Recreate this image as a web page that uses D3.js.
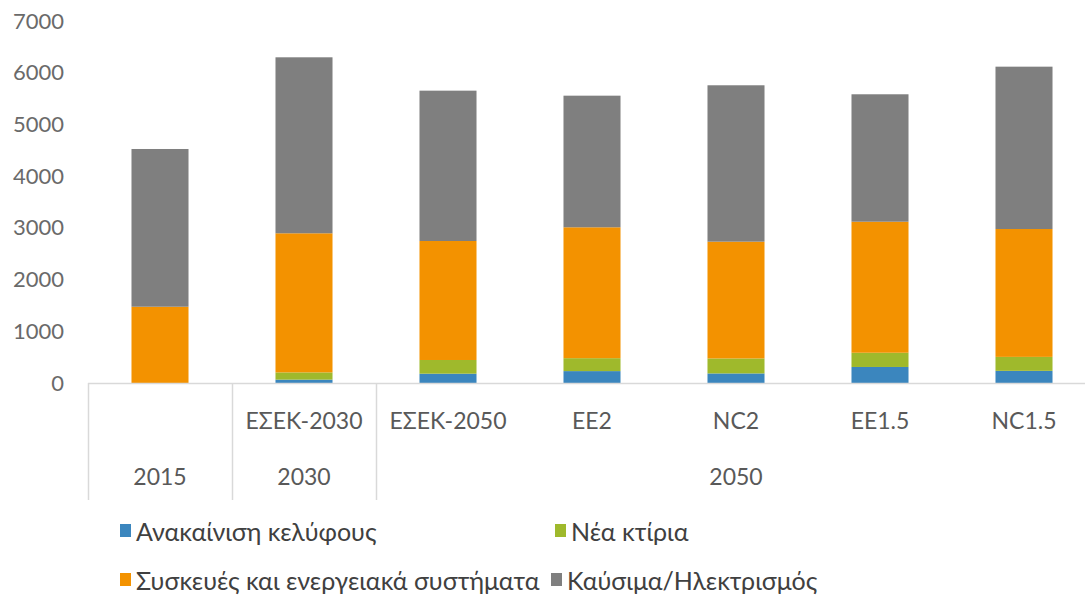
<!DOCTYPE html>
<html>
<head>
<meta charset="utf-8">
<script src="https://cdn.jsdelivr.net/npm/d3@7/dist/d3.min.js"></script>
<style>
  html, body { margin: 0; padding: 0; background: #ffffff; }
  svg { display: block; font-family: Lato, "Open Sans", sans-serif; }
</style>
</head>
<body>
<svg id="chart" width="1085" height="596"></svg>
<script>
// Scenario labels (inner axis level) and their year groups (outer level)
const scenarios = ["", "ΕΣΕΚ-2030", "ΕΣΕΚ-2050", "EE2", "NC2", "EE1.5", "NC1.5"];
const years = ["2015", "2030", "2050", "2050", "2050", "2050", "2050"];

// Stacked series, bottom to top
const seriesNames = ["Ανακαίνιση κελύφους", "Νέα κτίρια", "Συσκευές και ενεργειακά συστήματα", "Καύσιμα/Ηλεκτρισμός"];
const renovation = [0, 65, 180, 230, 185, 310, 235];
const newBuildings = [0, 140, 265, 250, 290, 275, 270];
const appliances = [1475, 2690, 2301, 2531, 2258, 2534, 2473];
const fuels = [3050, 3403, 2907, 2545, 3024, 2464, 3139];

const yTicks = [0, 1000, 2000, 3000, 4000, 5000, 6000, 7000];
const colors = ["#3b86be", "#9fb92c", "#f39200", "#7f7f7f"];

const svg = d3.select("#chart");

const keys = scenarios.map((s, i) => i);
const rows = keys.map(i => ({
  idx: i,
  s0: renovation[i], s1: newBuildings[i], s2: appliances[i], s3: fuels[i]
}));
const stack = d3.stack().keys(["s0", "s1", "s2", "s3"]);
const layers = stack(rows);

const x = d3.scaleBand().domain(keys).range([88, 1096]).paddingInner(0.604).paddingOuter(0.302);
const y = d3.scaleLinear().domain([0, 7000]).range([383, 21]);

// Bars
svg.append("g").selectAll("g")
  .data(layers)
  .join("g")
  .attr("fill", (d, i) => colors[i])
  .selectAll("rect")
  .data(d => d)
  .join("rect")
  .attr("x", d => x(d.data.idx))
  .attr("width", x.bandwidth())
  .attr("y", d => y(d[1]))
  .attr("height", d => Math.max(0, y(d[0]) - y(d[1])));

// Value axis (labels only)
const yAxis = svg.append("g")
  .attr("transform", "translate(64,0)")
  .call(d3.axisLeft(y).tickValues(yTicks).tickSize(0).tickPadding(0).tickFormat(d3.format("d")));
yAxis.select(".domain").remove();
yAxis.selectAll("text")
  .attr("fill", "#6a6a6a")
  .style("font-size", "22px")
  .style("font-family", "Lato, sans-serif");

// Category axis: baseline and inner labels
const axisColor = "#d9d9d9";
const step = x.step();
const x0 = x.range()[0];
svg.append("line")
  .attr("x1", x0).attr("x2", x.range()[1])
  .attr("y1", y(0) + 0.5).attr("y2", y(0) + 0.5)
  .attr("stroke", axisColor).attr("stroke-width", 1.5);

svg.append("g").selectAll("text")
  .data(keys)
  .join("text")
  .attr("x", d => x(d) + x.bandwidth() / 2)
  .attr("y", 429)
  .attr("text-anchor", "middle")
  .attr("fill", "#595959")
  .style("font-size", "23px")
  .text(d => scenarios[d]);

// Outer level: group years into spans
const groups = [];
years.forEach((yr, i) => {
  const last = groups[groups.length - 1];
  if (last && last.label === yr) last.end = i;
  else groups.push({ label: yr, start: i, end: i });
});

const bounds = [x0].concat(groups.map(g => x0 + (g.end + 1) * step));
svg.append("g").selectAll("line")
  .data(bounds)
  .join("line")
  .attr("x1", d => Math.round(d) + 0.5).attr("x2", d => Math.round(d) + 0.5)
  .attr("y1", y(0)).attr("y2", 500)
  .attr("stroke", axisColor).attr("stroke-width", 1.5);

svg.append("g").selectAll("text")
  .data(groups)
  .join("text")
  .attr("x", g => x0 + ((g.start + g.end + 1) / 2) * step)
  .attr("y", 485)
  .attr("text-anchor", "middle")
  .attr("fill", "#595959")
  .style("font-size", "23px")
  .text(g => g.label);

// Legend, two per row
const legendPos = [[120, 531], [555, 531], [120, 580], [551, 580]];
const legend = svg.append("g").selectAll("g")
  .data(seriesNames)
  .join("g")
  .attr("transform", (d, i) => `translate(${legendPos[i][0]},${legendPos[i][1]})`);
legend.append("rect")
  .attr("x", 0).attr("y", -7).attr("width", 11).attr("height", 13)
  .attr("fill", (d, i) => colors[i]);
legend.append("text")
  .attr("x", 16).attr("y", 0)
  .attr("dominant-baseline", "central")
  .attr("fill", "#404040")
  .style("font-size", "25px")
  .text(d => d);
</script>
</body>
</html>
